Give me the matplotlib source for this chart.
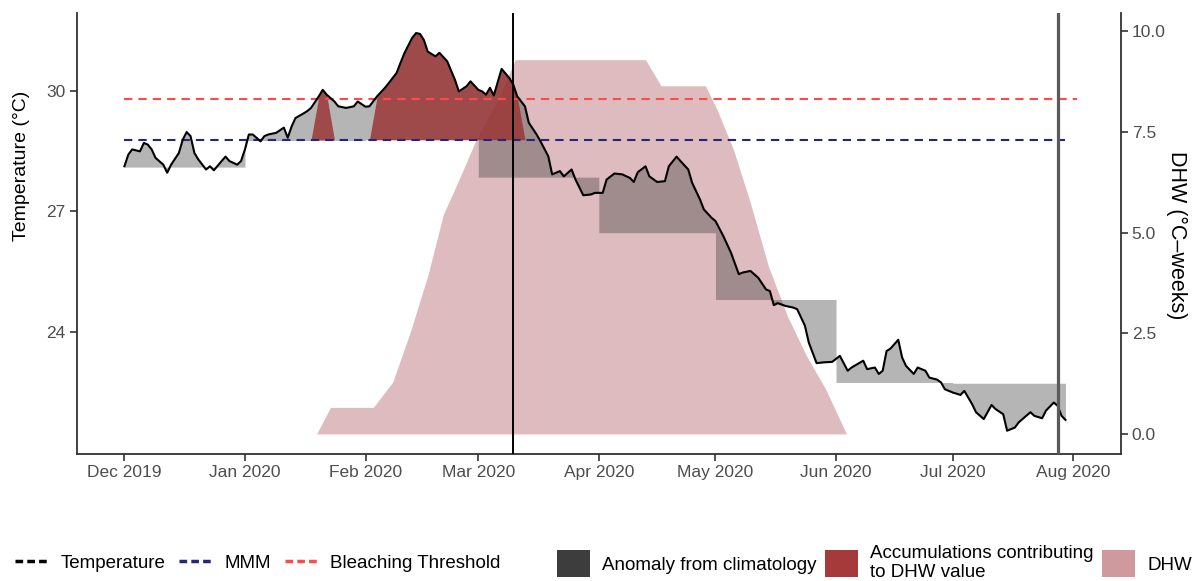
import matplotlib
matplotlib.use("Agg")
import matplotlib.pyplot as plt
import matplotlib.dates as mdates
from matplotlib.lines import Line2D
from matplotlib.patches import Patch
import numpy as np
import pandas as pd

plt.rcParams["font.family"] = ["Liberation Sans", "DejaVu Sans"]

# ---- data -------------------------------------------------------------
START = pd.Timestamp("2019-12-01")

# days after 1 Dec 2019 and the daily sea surface temperature (deg C)
obs_day = [0, 1, 2, 4, 5, 6, 7, 8, 10, 11, 12, 14, 15, 16, 17, 18, 19, 21, 22, 23,
           25, 26, 27, 29, 30, 31, 32, 33, 35, 36, 37, 39, 41, 42, 43, 44, 46, 47, 48, 50,
           51, 52, 54, 55, 57, 59, 60, 62, 63, 65, 67, 68, 70, 71, 72, 74, 75, 76, 77, 78,
           80, 81, 83, 85, 86, 88, 89, 91, 92, 93, 94, 95, 97, 99, 100, 101, 103, 104, 106, 107,
           109, 110, 112, 113, 115, 116, 118, 120, 121, 123, 124, 126, 128, 130, 131, 132, 134, 135, 137, 139,
           140, 142, 143, 145, 146, 148, 149, 151, 152, 154, 156, 158, 159, 161, 163, 165, 166, 167, 168, 170,
           172, 173, 175, 176, 178, 180, 182, 184, 186, 187, 190, 191, 193, 194, 195, 196, 197, 199, 200, 201,
           203, 204, 206, 207, 209, 210, 211, 213, 215, 216, 218, 219, 221, 223, 224, 226, 227, 229, 230, 233,
           234, 236, 237, 239, 240, 241, 242]
sst = [28.12, 28.41, 28.54, 28.49, 28.70, 28.66, 28.54, 28.33, 28.16, 27.96, 28.16, 28.45, 28.78, 28.97, 28.87, 28.45, 28.29, 28.04, 28.12, 28.02,
       28.25, 28.36, 28.25, 28.16, 28.25, 28.54, 28.91, 28.91, 28.74, 28.87, 28.91, 28.95, 29.08, 28.83, 29.11, 29.32, 29.43, 29.49, 29.57, 29.86,
       30.02, 29.90, 29.73, 29.61, 29.57, 29.61, 29.73, 29.60, 29.61, 29.86, 30.07, 30.19, 30.44, 30.69, 30.93, 31.31, 31.43, 31.41, 31.26, 30.97,
       30.85, 30.94, 30.73, 30.27, 29.98, 30.11, 30.23, 30.02, 29.98, 29.90, 30.07, 29.88, 30.54, 30.31, 30.15, 29.86, 29.61, 29.20, 28.91, 28.74,
       28.37, 27.92, 28.00, 27.87, 28.04, 27.79, 27.40, 27.42, 27.46, 27.46, 27.79, 27.94, 27.92, 27.83, 27.73, 27.97, 28.12, 27.87, 27.73, 27.75,
       28.12, 28.36, 28.25, 28.04, 27.71, 27.30, 27.05, 26.84, 26.76, 26.39, 25.97, 25.44, 25.48, 25.52, 25.35, 25.06, 25.02, 24.67, 24.72, 24.65,
       24.61, 24.57, 24.16, 23.74, 23.23, 23.25, 23.26, 23.41, 23.04, 23.12, 23.29, 23.08, 23.12, 22.96, 23.04, 23.53, 23.59, 23.81, 23.37, 23.16,
       22.96, 23.12, 23.04, 22.87, 22.82, 22.75, 22.58, 22.50, 22.44, 22.54, 22.21, 22.01, 21.84, 22.19, 22.09, 21.96, 21.55, 21.63, 21.76, 22.01,
       21.92, 21.86, 22.05, 22.25, 22.17, 21.92, 21.82]

# monthly climatology (deg C)
clim_month = ["2019-12-01", "2020-01-01", "2020-02-01", "2020-03-01",
              "2020-04-01", "2020-05-01", "2020-06-01", "2020-07-01", "2020-08-01"]
clim_sst = [28.10, 28.76, 28.78, 27.85, 26.47, 24.81, 22.75, 22.73]

MMM = 28.78                 # maximum of monthly means
BLEACHING = MMM + 1.0       # bleaching threshold

# degree heating weeks (deg C-weeks)
dhw_day = [49.4, 53, 64, 69, 73.5, 78, 82, 86.4, 90.4, 96, 100.5, 134, 138, 149.4,
           152.4, 156.6, 160.7, 165.6, 170.5, 175.4, 180.3, 185.7]
dhw = [0.0, 0.66, 0.66, 1.29, 2.53, 3.93, 5.45, 6.40, 7.30, 8.30, 9.30, 9.30, 8.65, 8.65,
       8.06, 7.07, 5.83, 4.17, 2.93, 1.94, 1.12, 0.0]

event_date = "2020-03-10"
survey_date = "2020-07-28"

# ---- colours ------------------------------------------------------------
COL_ANOM = "#3d3d3d"
COL_ACC = "#9a3030"
COL_DHW = "#c98f93"
COL_MMM = "#25257a"
COL_BT = "#ff4a4a"

# ---- derived ------------------------------------------------------------
x = mdates.date2num(START + pd.to_timedelta(obs_day, unit="D"))
sst = np.asarray(sst)
x_dhw = mdates.date2num(START + pd.to_timedelta(dhw_day, unit="D"))
dhw = np.asarray(dhw)
x_month = mdates.date2num(pd.to_datetime(clim_month))

DHW_OFFSET = sst.min() - 0.08   # DHW zero drawn just below the coolest day

fig = plt.figure(figsize=(12.01, 5.81), dpi=100)
ax = fig.add_axes([0.0641, 0.2186, 0.9331 - 0.0641, 0.9776 - 0.2186])
ax_dhw = ax.twinx()
ax.set_zorder(ax_dhw.get_zorder() + 1)
ax.patch.set_visible(False)

# DHW ribbon
ax_dhw.fill_between(x_dhw, 0, dhw, color=COL_DHW, alpha=0.6, lw=0)

# anomaly from the monthly climatology
for i, c in enumerate(clim_sst):
    lo = max(x_month[i], x[0])
    hi = min(x_month[i + 1], x[-1])
    inside = (x > lo) & (x < hi)
    xs = np.concatenate([[lo], x[inside], [hi]])
    ts = np.interp(xs, x, sst)
    ax.fill_between(xs, ts, c, color=COL_ANOM, alpha=0.38, lw=0, zorder=2)

# hotspots above the bleaching threshold accumulate into DHW
acc = np.where(sst >= BLEACHING, sst, MMM)
ax.fill_between(x, MMM, acc, color=COL_ACC, alpha=0.8, lw=0, zorder=3)

# reference levels
dash = (0, (4, 2.9))
ax.plot([x[0], x[-1]], [MMM, MMM], color=COL_MMM, lw=1.5, ls=dash, zorder=4)
ax.plot([x[0], x[-1] + 3], [BLEACHING, BLEACHING], color=COL_BT, lw=1.5, ls=dash, zorder=4)

# temperature
ax.plot(x, sst, color="black", lw=1.5, zorder=5)

# event markers
ax.axvline(mdates.date2num(pd.Timestamp(event_date)), color="black", lw=1.4, zorder=6)
ax.axvline(mdates.date2num(pd.Timestamp(survey_date)), color="#5a5a5a", lw=2.3, zorder=6)

# ---- scales --------------------------------------------------------------
x0 = mdates.date2num(pd.Timestamp("2019-12-01"))
x1 = mdates.date2num(pd.Timestamp("2020-08-01"))
xpad = 0.05 * (x1 - x0)
ax.set_xlim(x0 - xpad, x1 + xpad)

lo = min(sst.min(), DHW_OFFSET)
hi = max(sst.max(), DHW_OFFSET + dhw.max())
ypad = 0.05 * (hi - lo)
ax.set_ylim(lo - ypad, hi + ypad)
ax_dhw.set_ylim(lo - ypad - DHW_OFFSET, hi + ypad - DHW_OFFSET)

ax.xaxis.set_major_locator(mdates.MonthLocator())
ax.xaxis.set_major_formatter(mdates.DateFormatter("%b %Y"))
ax.set_yticks([24, 27, 30])
ax_dhw.set_yticks([0, 2.5, 5, 7.5, 10])
ax_dhw.set_yticklabels(["0.0", "2.5", "5.0", "7.5", "10.0"])

for a in (ax, ax_dhw):
    a.tick_params(direction="out", length=5, width=1.2, color="#333333",
                  labelcolor="#4d4d4d", labelsize=12.5, pad=3)
    for s in a.spines.values():
        s.set_color("#333333")
        s.set_linewidth(1.3)
    a.spines["top"].set_visible(False)
ax.spines["right"].set_visible(False)
ax_dhw.spines["left"].set_visible(False)
ax_dhw.spines["bottom"].set_visible(False)

ax.set_ylabel("Temperature (°C)", fontsize=14, color="black", va="center")
ax.yaxis.set_label_coords(-0.053, 0.653)
ax_dhw.set_ylabel("DHW (°C–weeks)", fontsize=15.5, color="black", rotation=270,
                  va="center")
ax_dhw.yaxis.set_label_coords(1.054, 0.497)

# ---- legends ---------------------------------------------------------------
key_dash = (0, (2.2, 1.2))
line_handles = [Line2D([], [], color="black", lw=2.5, ls=key_dash),
                Line2D([], [], color=COL_MMM, lw=2.5, ls=key_dash),
                Line2D([], [], color=COL_BT, lw=2.5, ls=key_dash)]
fig.legend(line_handles, ["Temperature", "MMM", "Bleaching Threshold"],
           loc="center left", bbox_to_anchor=(0.0125, 1 - 563 / 581), ncol=3,
           frameon=False, fontsize=13.5, handlelength=1.76, handletextpad=0.65,
           columnspacing=0.75, borderpad=0, borderaxespad=0)

fill_handles = [Patch(facecolor="#3d3d3d", lw=0),
                Patch(facecolor="#a63a3a", lw=0),
                Patch(facecolor="#cf9a9d", lw=0)]
fig.legend(fill_handles, ["Anomaly from climatology",
                          "Accumulations contributing\nto DHW value", "DHW"],
           loc="center left", bbox_to_anchor=(0.4635, 1 - 563 / 581), ncol=3,
           frameon=False, fontsize=13.5, handlelength=1.76, handleheight=1.87,
           handletextpad=0.65, columnspacing=0.45, borderpad=0, borderaxespad=0)

fig.savefig("out.png", dpi=100)
